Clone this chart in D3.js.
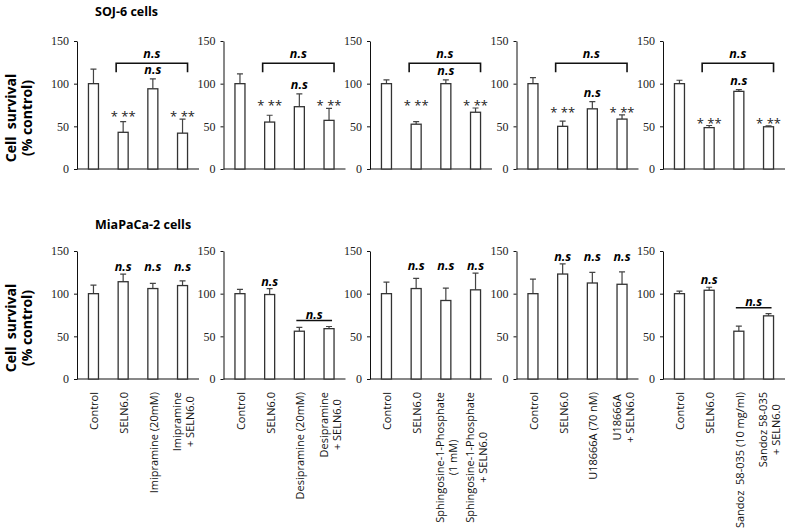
<!DOCTYPE html>
<html>
<head>
<meta charset="utf-8">
<script src="https://cdn.jsdelivr.net/npm/d3@7"></script>
<style>
body { margin: 0; background: #fff; }
</style>
</head>
<body>
<svg id="svg0" width="787" height="529"></svg>
<script>
var width = 787;
var height = 529;

// data
var rowTitles = ['SOJ-6 cells', 'MiaPaCa-2 cells'];

var treatments = [
    ['Control', 'SELN6.0', 'Imipramine (20mM)', 'Imipramine\n+ SELN6.0'],
    ['Control', 'SELN6.0', 'Desipramine (20mM)', 'Desipramine\n+ SELN6.0'],
    ['Control', 'SELN6.0', 'Sphingosine-1-Phosphate\n(1 mM)', 'Sphingosine-1-Phosphate\n+ SELN6.0'],
    ['Control', 'SELN6.0', 'U18666A (70 nM)', 'U18666A\n+ SELN6.0'],
    ['Control', 'SELN6.0', 'Sandoz  58-035 (10 mg/ml)', 'Sandoz 58-035\n+ SELN6.0']
];

var sojMeans = [
    [100, 43, 94, 42],
    [100, 55, 73, 57],
    [100, 52.5, 100, 66.5],
    [100, 50, 70.5, 58.5],
    [100, 48.5, 91, 49.5]
];
var sojErr = [
    [17, 12.5, 11.5, 16.5],
    [11.5, 8, 15, 14],
    [4.5, 3, 4.5, 5],
    [7, 6, 8.5, 5],
    [4, 2.5, 2, 1.2]
];

var miaMeans = [
    [100, 114, 106, 109.5],
    [100, 99, 56, 59],
    [100, 106, 92, 104.5],
    [100, 123, 112.5, 111],
    [100, 104, 56, 74]
];
var miaErr = [
    [10, 9, 6, 5.5],
    [5, 7, 4.5, 2.5],
    [13.5, 12, 14.5, 19.5],
    [17, 12, 12.5, 14.5],
    [3, 3.5, 6, 2.5]
];

var yTicks = [0, 50, 100, 150];

// significance marks
var sojStarBars = [1, 3];          // "* **"
var sojBracket = [1, 3];           // n.s bracket
var sojBracketLevel = 124;
var sojNsBar = 2;
var miaNsBars = [[1, 2, 3], [1], [1, 2, 3], [1, 2, 3], [1]];
var miaNsLine = [null, [2, 3], null, null, [2, 3]];

var sans = '"Open Sans", Lato, sans-serif';

var svg0 = d3.select('#svg0');

var rows = [
    {title: rowTitles[0], means: sojMeans, errs: sojErr, top: 41, bottom: 169, titleY: 16},
    {title: rowTitles[1], means: miaMeans, errs: miaErr, top: 251, bottom: 379, titleY: 229}
];

var panelX = d3.range(5).map(function(i){ return 77 + i * 146.5; });
var axisLen = 122;

rows.forEach(function(row, r){

    var y = d3.scaleLinear()
        .domain([0, 150])
        .range([row.bottom, row.top]);

    svg0.append('text')
        .attr('x', 95)
        .attr('y', row.titleY)
        .attr('font-family', sans)
        .attr('font-weight', 'bold')
        .attr('font-size', 12.5)
        .text(row.title);

    // y axis title
    var mid = (row.top + row.bottom) / 2 + 13;
    var yl = svg0.append('g')
        .attr('transform', 'translate(0,' + mid + ') rotate(-90)')
        .attr('font-family', sans)
        .attr('font-weight', 'bold')
        .attr('font-size', 14)
        .attr('text-anchor', 'middle');
    yl.append('text').attr('x', 0).attr('y', 16).style('white-space', 'pre').text('Cell  survival');
    yl.append('text').attr('x', 0).attr('y', 32).text('(% control)');

    panelX.forEach(function(x0, p){

        var g = svg0.append('g');

        var x = d3.scaleBand()
            .domain(d3.range(4))
            .range([x0, x0 + axisLen])
            .paddingInner(0.663)
            .paddingOuter(0.386);
        var bw = x.bandwidth();
        var cx = function(i){ return x(i) + bw / 2; };

        var yAxis = d3.axisLeft(y)
            .tickValues(yTicks)
            .tickSize(3)
            .tickSizeOuter(0)
            .tickPadding(5);

        var ax = g.append('g')
            .attr('transform', 'translate(' + x0 + ',0)')
            .call(yAxis);
        ax.selectAll('text')
            .attr('font-family', '"Liberation Serif", "Times New Roman", serif')
            .attr('font-size', 12)
            .attr('fill', '#222');
        ax.selectAll('line, path').attr('stroke', '#111');

        g.append('line')
            .attr('x1', x0).attr('x2', x0 + axisLen)
            .attr('y1', row.bottom).attr('y2', row.bottom)
            .attr('stroke', '#111');

        var means = row.means[p];
        var errs = row.errs[p];
        var data = means.map(function(m, i){ return {i: i, m: m, e: errs[i]}; });

        // error bars (upper only)
        g.selectAll('.err')
            .data(data)
            .enter()
            .append('path')
            .attr('class', 'err')
            .attr('d', function(d){
                var c = cx(d.i);
                var t = y(d.m + d.e);
                return 'M' + c + ',' + y(d.m) + 'V' + t + 'M' + (c - 3) + ',' + t + 'H' + (c + 3);
            })
            .attr('stroke', '#444')
            .attr('stroke-width', 1.2)
            .attr('fill', 'none');

        g.selectAll('rect')
            .data(data)
            .enter()
            .append('rect')
            .attr('x', function(d){ return x(d.i); })
            .attr('y', function(d){ return y(d.m); })
            .attr('width', bw)
            .attr('height', function(d){ return row.bottom - y(d.m); })
            .attr('fill', '#fff')
            .attr('stroke', '#333')
            .attr('stroke-width', 1.3);

        var top = function(i){ return means[i] + errs[i]; };

        var ns = function(xc, yb){
            g.append('text')
                .attr('x', xc)
                .attr('y', yb)
                .attr('text-anchor', 'middle')
                .attr('font-family', sans)
                .attr('font-weight', 'bold')
                .attr('font-style', 'italic')
                .attr('font-size', 12.5)
                .text('n.s');
        };

        if (r === 0) {
            // stars
            var starLevel = d3.max(sojStarBars, top) + 7;
            sojStarBars.forEach(function(i){
                g.append('text')
                    .attr('x', cx(i))
                    .attr('y', y(starLevel) + 8)
                    .attr('text-anchor', 'middle')
                    .attr('font-family', sans)
                    .attr('font-size', 13)
                    .attr('fill', '#222')
                    .style('white-space', 'pre')
                    .text('* **');
            });
            // bracket
            var bx1 = x(sojBracket[0]) - 2;
            var bx2 = x(sojBracket[1]) + bw;
            var by = y(sojBracketLevel);
            g.append('path')
                .attr('d', 'M' + bx1 + ',' + (by + 9) + 'V' + by + 'H' + bx2 + 'V' + (by + 9))
                .attr('stroke', '#111')
                .attr('stroke-width', 1.6)
                .attr('fill', 'none');
            ns((bx1 + bx2) / 2, by - 5);
            ns(cx(sojNsBar), y(top(sojNsBar) + 10) + 4);
        } else {
            var bars = miaNsBars[p];
            var lvl = d3.max(bars, top) + 8;
            bars.forEach(function(i){
                ns(cx(i), y(lvl) + 4);
            });
            var pair = miaNsLine[p];
            if (pair) {
                var ly = y(d3.max(pair, top) + 7);
                var lx1 = x(pair[0]) + 2;
                var lx2 = x(pair[1]) + bw - 2;
                g.append('line')
                    .attr('x1', lx1).attr('x2', lx2)
                    .attr('y1', ly).attr('y2', ly)
                    .attr('stroke', '#111')
                    .attr('stroke-width', 1.6);
                ns((lx1 + lx2) / 2, ly - 2);
            }

            // category labels, rotated
            treatments[p].forEach(function(label, i){
                var lines = label.split('\n');
                var lg = g.append('g')
                    .attr('transform', 'translate(' + (cx(i) + 1) + ',392) rotate(-90)')
                    .attr('font-family', sans)
                    .attr('font-size', 11)
                    .attr('fill', '#111');
                var texts = lines.map(function(s, k){
                    return lg.append('text')
                        .attr('y', (k - (lines.length - 1) / 2) * 13 + 4)
                        .style('white-space', 'pre')
                        .text(s);
                });
                var L = d3.max(texts, function(t){ return t.node().getComputedTextLength(); });
                texts.forEach(function(t){
                    t.attr('x', -L / 2).attr('text-anchor', 'middle');
                });
            });
        }
    });
});
</script>
</body>
</html>
